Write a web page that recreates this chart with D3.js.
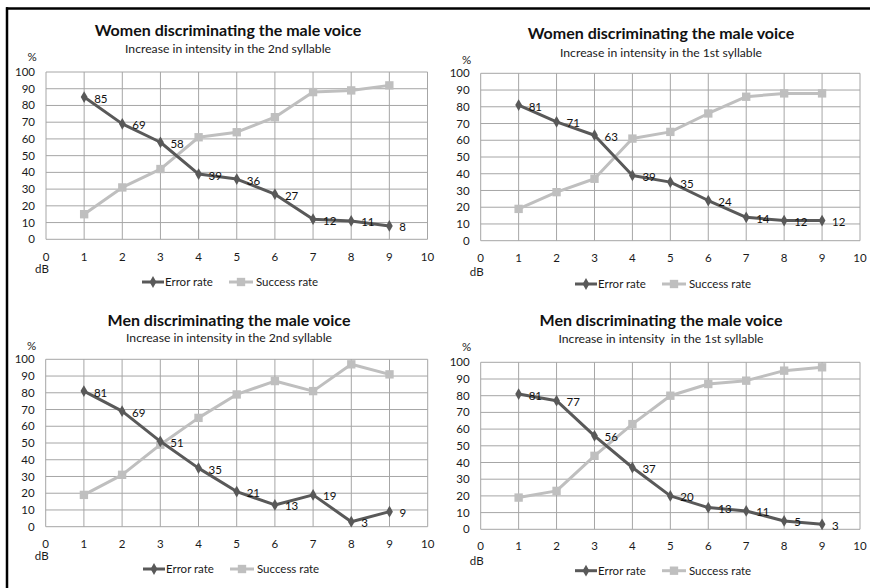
<!DOCTYPE html>
<html>
<head>
<meta charset="utf-8">
<script src="https://cdn.jsdelivr.net/npm/d3@7"></script>
<style>
  body { margin: 0; background: #fff; }
  svg text { font-family: Lato, "Open Sans", sans-serif; }
</style>
</head>
<body>
<div id="chart"></div>
<script>
// data
const dB = [1, 2, 3, 4, 5, 6, 7, 8, 9];
const xTicks = [0, 1, 2, 3, 4, 5, 6, 7, 8, 9, 10];
const yTicks = [0, 10, 20, 30, 40, 50, 60, 70, 80, 90, 100];

const titles = [
  "Women discriminating the male voice",
  "Women discriminating the male voice",
  "Men discriminating the male voice",
  "Men discriminating the male voice"
];
const subtitles = [
  "Increase in intensity in the 2nd syllable",
  "Increase in intensity in the 1st syllable",
  "Increase in intensity in the 2nd syllable",
  "Increase in intensity  in the 1st syllable"
];

const errWomen2nd = [85, 69, 58, 39, 36, 27, 12, 11, 8];
const sucWomen2nd = [15, 31, 42, 61, 64, 73, 88, 89, 92];
const errWomen1st = [81, 71, 63, 39, 35, 24, 14, 12, 12];
const sucWomen1st = [19, 29, 37, 61, 65, 76, 86, 88, 88];
const errMen2nd = [81, 69, 51, 35, 21, 13, 19, 3, 9];
const sucMen2nd = [19, 31, 49, 65, 79, 87, 81, 97, 91];
const errMen1st = [81, 77, 56, 37, 20, 13, 11, 5, 3];
const sucMen1st = [19, 23, 44, 63, 80, 87, 89, 95, 97];

const seriesNames = ["Error rate", "Success rate"];

const errorSeries = [errWomen2nd, errWomen1st, errMen2nd, errMen1st];
const successSeries = [sucWomen2nd, sucWomen1st, sucMen2nd, sucMen1st];

// layout of the four panels
const panels = [
  { left: 46,    right: 427.5, top: 72,    bottom: 239.3, cx: 228, titleY: 30.7,  subY: 49,    pctY: 57,    xLabY: 257,   dbY: 269,   legY: 282 },
  { left: 480.7, right: 860,   top: 73.3,  bottom: 240.7, cx: 661, titleY: 33,    subY: 53,    pctY: 60,    xLabY: 258,   dbY: 271.5, legY: 284 },
  { left: 45.7,  right: 427.7, top: 359.3, bottom: 526.7, cx: 229, titleY: 320.7, subY: 337.3, pctY: 345.7, xLabY: 544,   dbY: 555.7, legY: 569 },
  { left: 480.7, right: 860,   top: 362.3, bottom: 529.3, cx: 661, titleY: 320.7, subY: 339,   pctY: 347.3, xLabY: 545.7, dbY: 560.7, legY: 570.7 }
];

const errColor = "#595959";
const sucColor = "#bfbfbf";
const gridColor = "#a6a6a6";
const textColor = "#1a1a1a";

const W = 870, H = 588;

const svg = d3.select("#chart")
  .append("svg")
    .attr("width", W)
    .attr("height", H);

svg.append("rect").attr("width", W).attr("height", H).attr("fill", "#fff");

// frame: top and left edge only
svg.append("line")
  .attr("x1", 6).attr("x2", W).attr("y1", 8.5).attr("y2", 8.5)
  .attr("stroke", "#000").attr("stroke-width", 2.5);
svg.append("line")
  .attr("x1", 7).attr("x2", 7).attr("y1", 7.3).attr("y2", H)
  .attr("stroke", "#000").attr("stroke-width", 2.5);

const diamond = d3.symbol().type(d3.symbolDiamond).size(40);
const square = d3.symbol().type(d3.symbolSquare).size(70);

panels.forEach(function(p, k) {
  const g = svg.append("g");
  const x = d3.scaleLinear().domain([0, 10]).range([p.left, p.right]);
  const y = d3.scaleLinear().domain([0, 100]).range([p.bottom, p.top]);

  // grid
  g.selectAll(".hgrid")
    .data(yTicks).enter()
    .append("line")
      .attr("x1", p.left).attr("x2", p.right)
      .attr("y1", function(d) { return y(d); })
      .attr("y2", function(d) { return y(d); })
      .attr("stroke", gridColor).attr("stroke-width", 1);

  g.selectAll(".vgrid")
    .data(xTicks).enter()
    .append("line")
      .attr("x1", function(d) { return x(d); })
      .attr("x2", function(d) { return x(d); })
      .attr("y1", p.top).attr("y2", p.bottom)
      .attr("stroke", gridColor).attr("stroke-width", 1);

  // tick labels
  g.selectAll(".ylab")
    .data(yTicks).enter()
    .append("text")
      .attr("x", p.left - 11)
      .attr("y", function(d) { return y(d); })
      .attr("dy", "0.35em")
      .attr("text-anchor", "end")
      .attr("font-size", 11.5)
      .attr("fill", textColor)
      .text(function(d) { return d; });

  g.selectAll(".xlab")
    .data(xTicks).enter()
    .append("text")
      .attr("x", function(d) { return x(d); })
      .attr("y", p.xLabY)
      .attr("dy", "0.35em")
      .attr("text-anchor", "middle")
      .attr("font-size", 11.5)
      .attr("fill", textColor)
      .text(function(d) { return d; });

  g.append("text")
    .attr("x", p.left - 14).attr("y", p.pctY).attr("dy", "0.35em")
    .attr("text-anchor", "middle").attr("font-size", 11.5).attr("fill", textColor)
    .text("%");

  g.append("text")
    .attr("x", p.left - 4).attr("y", p.dbY).attr("dy", "0.35em")
    .attr("text-anchor", "middle").attr("font-size", 11.5).attr("fill", textColor)
    .text("dB");

  // titles
  g.append("text")
    .attr("x", p.cx).attr("y", p.titleY).attr("dy", "0.35em")
    .attr("text-anchor", "middle").attr("font-size", 16).attr("font-weight", "bold")
    .attr("fill", "#111")
    .text(titles[k]);

  g.append("text")
    .attr("x", p.cx).attr("y", p.subY).attr("dy", "0.35em")
    .attr("text-anchor", "middle").attr("font-size", 12.2)
    .attr("fill", textColor)
    .style("white-space", "pre")
    .text(subtitles[k]);

  const line = d3.line()
    .x(function(d, i) { return x(dB[i]); })
    .y(function(d) { return y(d); });

  // success series (drawn first)
  g.append("path")
    .datum(successSeries[k])
    .attr("d", line)
    .attr("fill", "none").attr("stroke", sucColor).attr("stroke-width", 3)
    .attr("stroke-linejoin", "round");

  g.selectAll(".sm")
    .data(successSeries[k]).enter()
    .append("path")
      .attr("d", square)
      .attr("transform", function(d, i) { return "translate(" + x(dB[i]) + "," + y(d) + ")"; })
      .attr("fill", sucColor);

  // error series
  g.append("path")
    .datum(errorSeries[k])
    .attr("d", line)
    .attr("fill", "none").attr("stroke", errColor).attr("stroke-width", 3)
    .attr("stroke-linejoin", "round");

  g.selectAll(".em")
    .data(errorSeries[k]).enter()
    .append("path")
      .attr("d", diamond)
      .attr("transform", function(d, i) { return "translate(" + x(dB[i]) + "," + y(d) + ")"; })
      .attr("fill", errColor);

  // data labels on the error rate
  g.selectAll(".dl")
    .data(errorSeries[k]).enter()
    .append("text")
      .attr("x", function(d, i) { return x(dB[i]) + 10; })
      .attr("y", function(d) { return y(d) + 1.5; })
      .attr("dy", "0.35em")
      .attr("font-size", 11.5)
      .attr("fill", "#111")
      .text(function(d) { return d; });

  // legend
  const lg = g.append("g").attr("transform", "translate(" + (p.cx - 86) + "," + p.legY + ")");
  lg.append("line").attr("x1", 0).attr("x2", 22).attr("y1", 0).attr("y2", 0)
    .attr("stroke", errColor).attr("stroke-width", 3);
  lg.append("path").attr("d", diamond).attr("transform", "translate(11,0)").attr("fill", errColor);
  lg.append("text").attr("x", 23).attr("y", 0).attr("dy", "0.35em")
    .attr("font-size", 11.5).attr("fill", textColor).text(seriesNames[0]);

  lg.append("line").attr("x1", 87).attr("x2", 111).attr("y1", 0).attr("y2", 0)
    .attr("stroke", sucColor).attr("stroke-width", 3);
  lg.append("path").attr("d", square).attr("transform", "translate(99,0)").attr("fill", sucColor);
  lg.append("text").attr("x", 114).attr("y", 0).attr("dy", "0.35em")
    .attr("font-size", 11.5).attr("fill", textColor).text(seriesNames[1]);
});
</script>
</body>
</html>
